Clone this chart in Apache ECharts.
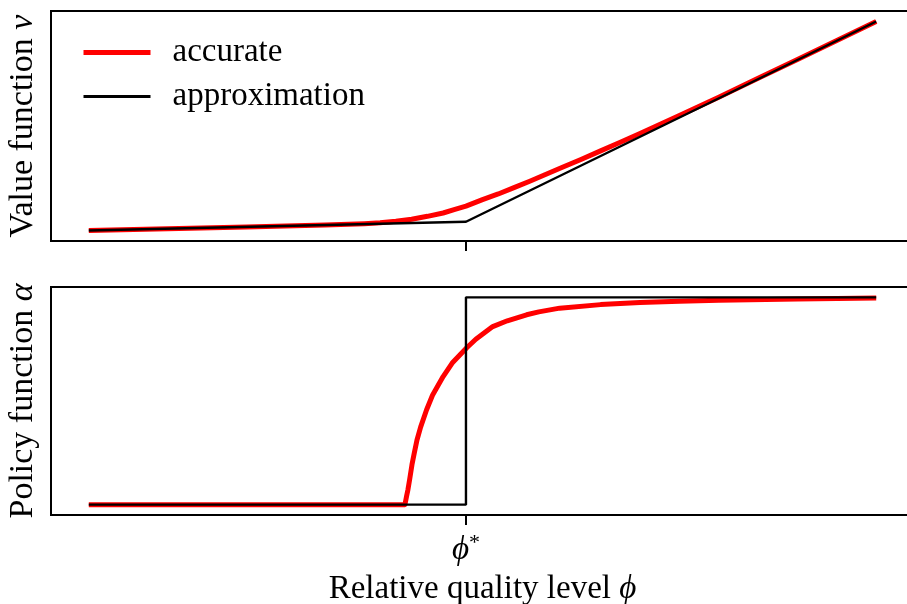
<!DOCTYPE html>
<html>
<head>
<meta charset="utf-8">
<script src="https://cdn.jsdelivr.net/npm/echarts@6/dist/echarts.min.js"></script>
<style>html,body{margin:0;padding:0;background:#fff}#c{width:907px;height:604px}</style>
</head>
<body>
<div id="c"></div>
<script>
// ---- data (x in relative units, phi* marked) ----
const phiStar = 0.479;
const seriesNames = ['accurate', 'approximation'];

// top panel: value function
const valAccX = [0, 0.1, 0.2, 0.3, 0.35, 0.37, 0.39, 0.41, 0.43, 0.45, 0.465, 0.479, 0.50, 0.52, 0.54, 0.56, 0.58, 0.60, 0.625, 0.65, 0.675, 0.70, 0.75, 0.80, 0.85, 0.90, 0.95, 1.0];
const valAccY = [0, 0.009, 0.0175, 0.027, 0.033, 0.037, 0.044, 0.054, 0.068, 0.084, 0.101, 0.117, 0.148, 0.175, 0.205, 0.236, 0.268, 0.300, 0.340, 0.381, 0.422, 0.464, 0.550, 0.638, 0.728, 0.818, 0.909, 1.0];
const valApxX = [0, 0.479, 1.0];
const valApxY = [0, 0.042, 1.0];

// bottom panel: policy function
const polAccX = [0, 0.2, 0.4015, 0.4035, 0.4053, 0.4075, 0.4104, 0.4135, 0.4168, 0.4215, 0.429, 0.4365, 0.45, 0.4615, 0.48, 0.4915, 0.513, 0.5315, 0.556, 0.5715, 0.598, 0.65, 0.70, 0.75, 0.80, 0.90, 1.0];
const polAccY = [0, 0, 0, 0.039, 0.072, 0.122, 0.192, 0.252, 0.312, 0.375, 0.458, 0.528, 0.618, 0.683, 0.757, 0.798, 0.859, 0.887, 0.916, 0.930, 0.948, 0.965, 0.975, 0.981, 0.986, 0.992, 0.997];
const polApxX = [0, 0.479, 0.479, 1.0];
const polApxY = [0, 0, 1, 1];

const pairs = (xs, ys) => xs.map((x, i) => [x, ys[i]]);

const FONT = 'Liberation Serif, DejaVu Serif, serif';
const FS = 33;
const rich = {
  i: { fontFamily: FONT, fontStyle: 'italic', fontSize: FS, color: '#000' },
  s: { fontFamily: FONT, fontSize: 22, color: '#000', verticalAlign: 'top', padding: [0, 0, 14, 0] }
};

const chart = echarts.init(document.getElementById('c'), null, { renderer: 'canvas' });

const xCommon = {
  type: 'value', min: -0.048, max: 1.048,
  splitLine: { show: false },
  axisLine: { show: true, onZero: false, lineStyle: { color: '#000', width: 2 } },
  axisTick: { show: true, customValues: [phiStar], length: 10, lineStyle: { color: '#000', width: 2 } }
};
const yCommon = {
  type: 'value', min: -0.05, max: 1.05,
  splitLine: { show: false },
  axisLabel: { show: false },
  axisTick: { show: false },
  axisLine: { show: true, onZero: false, lineStyle: { color: '#000', width: 2 } },
  nameLocation: 'middle', nameRotate: 90, nameGap: 11,
  nameTextStyle: { fontFamily: FONT, fontSize: 34, color: '#000', rich: {
    i: { fontFamily: FONT, fontStyle: 'italic', fontSize: 34, color: '#000' } } }
};

chart.setOption({
  animation: false,
  backgroundColor: '#fff',
  grid: [
    { left: 51, top: 11, width: 863, height: 230, show: true, borderColor: '#000', borderWidth: 2, outerBoundsMode: 'none', containLabel: false },
    { left: 51, top: 287, width: 863, height: 228, show: true, borderColor: '#000', borderWidth: 2, outerBoundsMode: 'none', containLabel: false }
  ],
  legend: {
    data: [
      { name: 'accurate', lineStyle: { width: 5, color: '#ff0000' } },
      { name: 'approximation', lineStyle: { width: 2.8, color: '#000' } }
    ],
    orient: 'vertical', left: 76, top: 31,
    itemWidth: 67, itemHeight: 20, itemGap: 11,
    itemStyle: { opacity: 0 },
    textStyle: { fontFamily: FONT, fontSize: FS, color: '#000', padding: [0, 0, 0, 17] },
    inactiveColor: '#000'
  },
  xAxis: [
    Object.assign({}, xCommon, { gridIndex: 0, axisLabel: { show: false } }),
    Object.assign({}, xCommon, {
      gridIndex: 1,
      axisLabel: { show: true, customValues: [phiStar], margin: 17, formatter: () => '{i|ϕ}{s|*}', rich: rich, fontFamily: FONT, fontSize: FS, color: '#000' },
      name: 'Relative quality level {i|ϕ}', nameLocation: 'middle', nameGap: 58,
      nameTextStyle: { fontFamily: FONT, fontSize: FS, color: '#000', rich: rich }
    })
  ],
  yAxis: [
    Object.assign({}, yCommon, { gridIndex: 0, name: 'Value function {i|v}' }),
    Object.assign({}, yCommon, { gridIndex: 1, name: 'Policy function {i|α}' })
  ],
  series: [
    { name: 'accurate', type: 'line', xAxisIndex: 0, yAxisIndex: 0, data: pairs(valAccX, valAccY),
      showSymbol: false, symbol: 'none', lineStyle: { color: '#ff0000', width: 5, join: 'round' }, itemStyle: { color: '#ff0000' }, z: 2 },
    { name: 'approximation', type: 'line', xAxisIndex: 0, yAxisIndex: 0, data: pairs(valApxX, valApxY),
      showSymbol: false, symbol: 'none', lineStyle: { color: '#000', width: 2.4 }, itemStyle: { color: '#000' }, z: 3 },
    { name: 'accurate', type: 'line', xAxisIndex: 1, yAxisIndex: 1, data: pairs(polAccX, polAccY),
      showSymbol: false, symbol: 'none', lineStyle: { color: '#ff0000', width: 5, join: 'round' }, itemStyle: { color: '#ff0000' }, z: 2 },
    { name: 'approximation', type: 'line', xAxisIndex: 1, yAxisIndex: 1, data: pairs(polApxX, polApxY),
      showSymbol: false, symbol: 'none', lineStyle: { color: '#000', width: 2.4 }, itemStyle: { color: '#000' }, z: 3 }
  ]
});
</script>
</body>
</html>
